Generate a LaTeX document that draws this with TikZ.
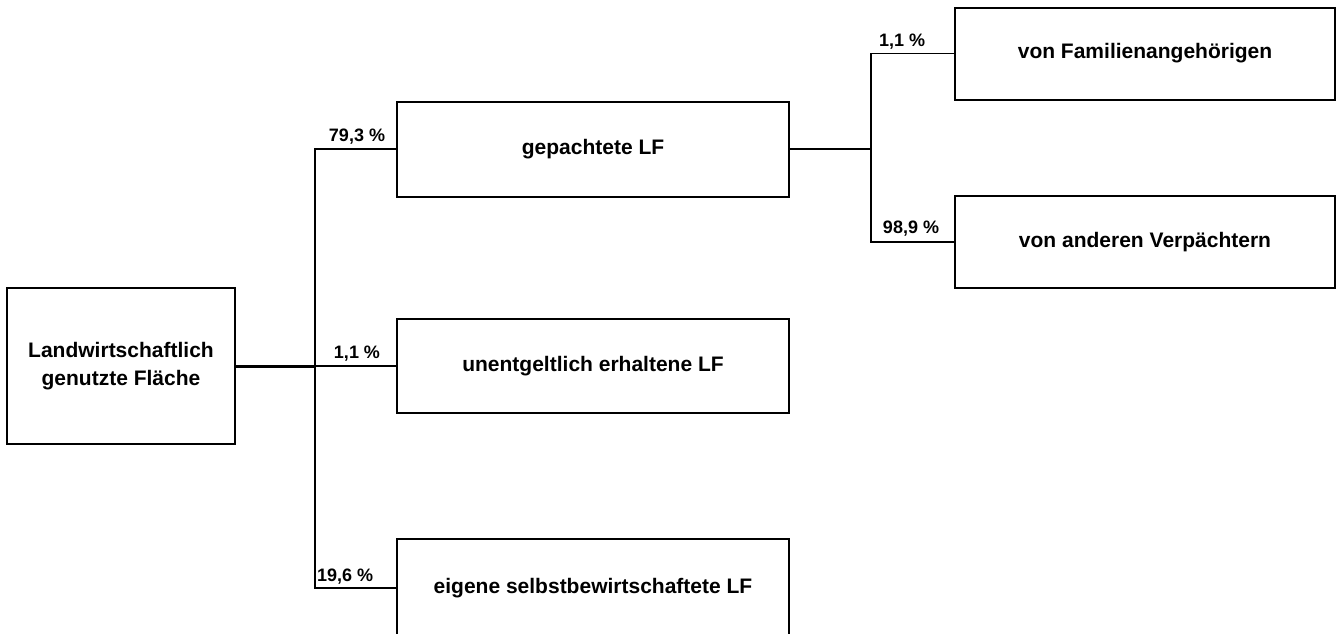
\documentclass[tikz,border=0pt]{standalone}
\usepackage{fontspec}
\setmainfont{Liberation Sans}
\begin{document}
\begin{tikzpicture}[x=1pt,y=-1pt,
  box/.style={draw=black,line width=2pt,fill=white,inner sep=0pt,align=center,
    font=\fontsize{21}{28}\selectfont\bfseries},
  conn/.style={draw=black,line width=1.6pt},
  thickconn/.style={draw=black,line width=3pt},
  pct/.style={inner sep=0pt,font=\fontsize{18}{22}\selectfont\bfseries}]
\useasboundingbox[fill=white] (0,0) rectangle (1337,633);
\node[box,minimum width=228pt,minimum height=156pt] (L) at (121,366) {Landwirtschaftlich\\genutzte Fläche};
\node[box,minimum width=392pt,minimum height=95pt] (G) at (593,149) {gepachtete LF};
\node[box,minimum width=392pt,minimum height=94pt] (U) at (593,366) {unentgeltlich erhaltene LF};
\node[box,minimum width=392pt,minimum height=98pt] (E) at (593,588) {eigene selbstbewirtschaftete LF};
\node[box,minimum width=380pt,minimum height=92pt] (F) at (1145,53.5) {von Familienangehörigen};
\node[box,minimum width=380pt,minimum height=92pt] (V) at (1145,242) {von anderen Verpächtern};
\coordinate (J1) at (315,366);
\coordinate (J2) at (871,149);
\draw[thickconn] (L.east) -- (J1);
\draw[conn] (G.west) -| (J1) |- (E.west);
\draw[conn] (U.west) -- (J1);
\draw[conn] (G.east) -- (J2);
\draw[conn] (F.west) -| (J2) |- (V.west);
\node[pct] (p1) at (357,137) {79,3 \%};
\node[pct] (p2) at (357,354) {1,1 \%};
\node[pct,anchor=west] (p3) at (317,577) {19,6 \%};
\node[pct] (p4) at (902,42) {1,1 \%};
\node[pct] (p5) at (911,229) {98,9 \%};
\end{tikzpicture}
\end{document}
